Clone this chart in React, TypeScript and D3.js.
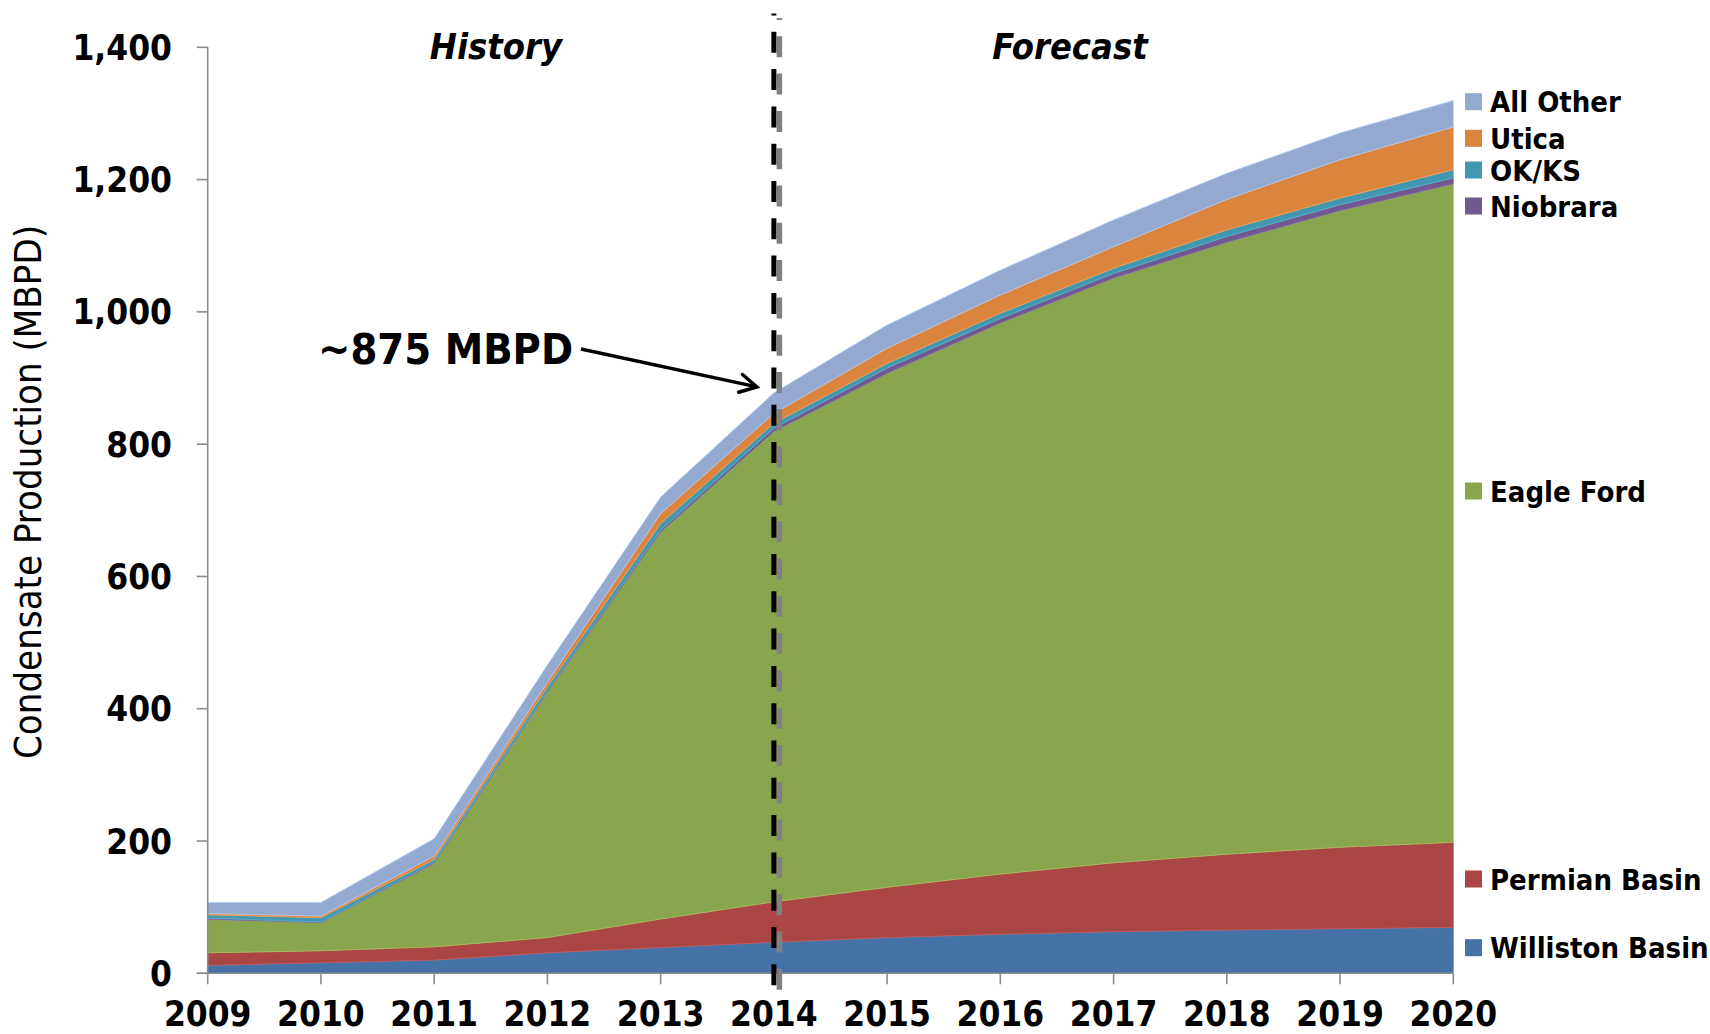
import React from "react";
import * as d3 from "d3";

// Condensate production by play, thousand barrels per day
const years = [2009, 2010, 2011, 2012, 2013, 2014, 2015, 2016, 2017, 2018, 2019, 2020];
const williston = [12, 16, 20, 31, 39, 47, 54, 59, 63, 65.5, 67.5, 69.5];
const permian = [19, 18, 20, 23, 43, 61, 76, 91, 104, 114.5, 123, 128.5];
const eagleFord = [50.5, 42.5, 126, 371, 585, 711, 777, 833, 884, 925, 962.5, 995.5];
const niobrara = [2, 1, 2, 2, 3, 5, 8, 7, 7, 9, 9, 9];
const okks = [5, 6.5, 4, 6, 10, 7.5, 7, 8, 8, 10, 10, 12.5];
const utica = [2, 2.5, 5, 7, 15, 15, 23, 27.5, 32.5, 46, 58, 64.5];
const allOther = [16.5, 20.5, 26.5, 26, 25, 31, 35, 37.5, 40.5, 39.5, 40.5, 40];

const seriesNames = ["Williston Basin", "Permian Basin", "Eagle Ford", "Niobrara", "OK/KS", "Utica", "All Other"];
const seriesValues = [williston, permian, eagleFord, niobrara, okks, utica, allOther];
const seriesColors = ["#4572A7", "#AA4643", "#89A54E", "#71588F", "#4198AF", "#DB843D", "#93A9CF"];

const yTicks = [0, 200, 400, 600, 800, 1000, 1200, 1400];
const forecastStart = 2014;
const annotationText = "~875 MBPD";

const W = 1710;
const H = 1034;
const M = { left: 207.7, right: 1453.3, top: 47.3, bottom: 973.3 };
const FONT = "'DejaVu Sans Condensed', 'DejaVu Sans', sans-serif";

// Vertical centre of each legend row, top to bottom
const legendRowY: Record<string, number> = {
  "All Other": 101.7,
  Utica: 138.3,
  "OK/KS": 170,
  Niobrara: 206,
  "Eagle Ford": 491,
  "Permian Basin": 879,
  "Williston Basin": 947.7,
};

export default function App() {
  const x = d3.scaleLinear().domain([years[0], years[years.length - 1]]).range([M.left, M.right]);
  const y = d3.scaleLinear().domain([0, 1400]).range([M.bottom, M.top]);

  const rows = years.map((yr, i) => {
    const r: Record<string, number> = { year: yr };
    seriesNames.forEach((n, k) => (r[n] = seriesValues[k][i]));
    return r;
  });
  const stacked = d3.stack<Record<string, number>>().keys(seriesNames)(rows);
  const area = d3
    .area<d3.SeriesPoint<Record<string, number>>>()
    .x((d) => x(d.data.year))
    .y0((d) => y(d[0]))
    .y1((d) => y(d[1]));

  const axisColor = "#8c8c8c";
  const xf = x(forecastStart);
  const total2014 = stacked[stacked.length - 1][years.indexOf(forecastStart)][1];

  // annotation arrow geometry
  const arrowStart = { x: 581, y: 349 };
  const arrowEnd = { x: xf - 17, y: y(total2014) - 6 };
  const ang = Math.atan2(arrowEnd.y - arrowStart.y, arrowEnd.x - arrowStart.x);
  const head = 19;
  const spread = 0.5;
  const h1 = { x: arrowEnd.x - head * Math.cos(ang - spread), y: arrowEnd.y - head * Math.sin(ang - spread) };
  const h2 = { x: arrowEnd.x - head * Math.cos(ang + spread), y: arrowEnd.y - head * Math.sin(ang + spread) };

  return (
    <div style={{ position: "fixed", left: 0, top: 0 }}>
      <svg width={W} height={H} style={{ display: "block", background: "#fff" }} fontFamily={FONT}>
        {stacked.map((s, k) => (
          <path
            key={s.key}
            d={area(s) || ""}
            fill={seriesColors[k]}
            stroke={d3.color(seriesColors[k])!.brighter(0.5).formatHex()}
            strokeWidth={0.8}
          />
        ))}

        {/* y axis */}
        <line x1={M.left} x2={M.left} y1={M.top} y2={M.bottom} stroke={axisColor} strokeWidth={1.6} />
        {yTicks.map((t) => (
          <g key={t}>
            <line x1={M.left - 11} x2={M.left} y1={y(t)} y2={y(t)} stroke={axisColor} strokeWidth={1.6} />
            <text x={172} y={y(t) + 12.5} textAnchor="end" fontSize={35} fontWeight="bold" fill="#000">
              {d3.format(",")(t)}
            </text>
          </g>
        ))}

        {/* x axis */}
        <line x1={M.left - 11} x2={M.right} y1={M.bottom} y2={M.bottom} stroke={axisColor} strokeWidth={1.6} />
        {years.map((yr) => (
          <g key={yr}>
            <line x1={x(yr)} x2={x(yr)} y1={M.bottom} y2={M.bottom + 11} stroke={axisColor} strokeWidth={1.6} />
            <text x={x(yr)} y={1026} textAnchor="middle" fontSize={35} fontWeight="bold" fill="#000">
              {yr}
            </text>
          </g>
        ))}

        {/* axis title */}
        <text
          transform={`translate(41, 492) rotate(-90)`}
          textAnchor="middle"
          fontSize={38}
          fill="#000"
        >
          Condensate Production (MBPD)
        </text>

        {/* history / forecast divider with shadow */}
        <line x1={xf + 5.5} x2={xf + 5.5} y1={18} y2={993} stroke="#808080" strokeWidth={5.5} strokeDasharray="21 16.3" strokeDashoffset={19} />
        <line x1={xf} x2={xf} y1={13.5} y2={988} stroke="#000" strokeWidth={5} strokeDasharray="21 16.3" strokeDashoffset={19} />

        <text x={496} y={59} textAnchor="middle" fontSize={36} fontWeight="bold" fontStyle="italic">
          History
        </text>
        <text x={1070} y={59} textAnchor="middle" fontSize={36} fontWeight="bold" fontStyle="italic">
          Forecast
        </text>

        {/* annotation */}
        <text x={318} y={364} fontSize={43} fontWeight="bold">
          {annotationText}
        </text>
        <line x1={arrowStart.x} y1={arrowStart.y} x2={arrowEnd.x} y2={arrowEnd.y} stroke="#000" strokeWidth={3.5} />
        <polyline
          points={`${h1.x},${h1.y} ${arrowEnd.x},${arrowEnd.y} ${h2.x},${h2.y}`}
          fill="none"
          stroke="#000"
          strokeWidth={3.5}
          strokeLinecap="round"
          strokeLinejoin="miter"
        />

        {/* legend */}
        {seriesNames.map((n, k) => (
          <g key={n}>
            <rect x={1465} y={legendRowY[n] - 8.5} width={17} height={17} fill={seriesColors[k]} />
            <text x={1490} y={legendRowY[n] + 10.5} fontSize={29} fontWeight="bold" fill="#000">
              {n}
            </text>
          </g>
        ))}
      </svg>
    </div>
  );
}
